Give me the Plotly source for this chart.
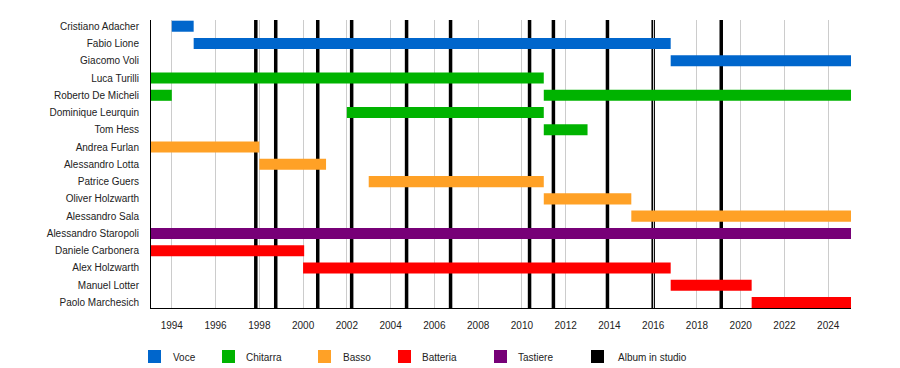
import plotly.graph_objects as go

# ---------------- data ----------------
members = ["Cristiano Adacher", "Fabio Lione", "Giacomo Voli", "Luca Turilli",
           "Roberto De Micheli", "Dominique Leurquin", "Tom Hess", "Andrea Furlan",
           "Alessandro Lotta", "Patrice Guers", "Oliver Holzwarth", "Alessandro Sala",
           "Alessandro Staropoli", "Daniele Carbonera", "Alex Holzwarth",
           "Manuel Lotter", "Paolo Marchesich"]

# periods: (member, role, start, end)
period_member = ["Cristiano Adacher", "Fabio Lione", "Giacomo Voli",
                 "Luca Turilli", "Roberto De Micheli", "Roberto De Micheli",
                 "Dominique Leurquin", "Tom Hess",
                 "Andrea Furlan", "Alessandro Lotta", "Patrice Guers",
                 "Oliver Holzwarth", "Alessandro Sala",
                 "Alessandro Staropoli",
                 "Daniele Carbonera", "Alex Holzwarth", "Manuel Lotter", "Paolo Marchesich"]
period_role = ["Voce", "Voce", "Voce",
               "Chitarra", "Chitarra", "Chitarra", "Chitarra", "Chitarra",
               "Basso", "Basso", "Basso", "Basso", "Basso",
               "Tastiere",
               "Batteria", "Batteria", "Batteria", "Batteria"]
period_start = [1994.0, 1995.0, 2016.8,
                1993.0, 1993.0, 2011.0, 2002.0, 2011.0,
                1993.0, 1998.0, 2003.0, 2011.0, 2015.0,
                1993.0,
                1993.0, 2000.0, 2016.8, 2020.5]
period_end = [1995.0, 2016.8, 2025.04,
              2011.0, 1994.0, 2025.04, 2011.0, 2013.0,
              1998.0, 2001.05, 2011.0, 2015.0, 2025.04,
              2025.04,
              2000.05, 2016.8, 2020.5, 2025.04]

album_years = [1997.84, 1998.75, 2000.67, 2002.22, 2004.73, 2006.74,
               2010.35, 2011.44, 2013.91, 2016.0, 2019.11]

roles = ["Voce", "Chitarra", "Basso", "Batteria", "Tastiere", "Album in studio"]
role_colors = {"Voce": "#0066CC", "Chitarra": "#00B300", "Basso": "#FFA126",
               "Batteria": "#FF0000", "Tastiere": "#770077", "Album in studio": "#000000"}

x_range = [1993.05, 2025.04]

# ---------------- layout geometry ----------------
W, H = 900, 368
ML, MR, MT, MB = 151, 49, 20, 60
PW, PH = W - ML - MR, H - MT - MB

def px_to_paper_x(px):
    return (px - ML) / PW

def px_to_paper_y(py):
    return (H - MB - py) / PH

fig = go.Figure()

for role in roles[:-1]:
    idx = [i for i, r in enumerate(period_role) if r == role]
    fig.add_trace(go.Bar(
        orientation="h",
        y=[period_member[i] for i in idx],
        base=[period_start[i] for i in idx],
        x=[period_end[i] - period_start[i] for i in idx],
        marker=dict(color=role_colors[role], line=dict(width=0)),
        width=0.64,
        showlegend=False,
        hoverinfo="skip",
    ))

shapes = []
for a in album_years:
    shapes.append(dict(type="line", xref="x", yref="paper", x0=a, x1=a, y0=0, y1=1,
                       line=dict(color="black", width=3.5), layer="between"))

# manual legend
leg_sq_x = [148, 222, 318, 398, 494, 591]
leg_tx_x = [171, 244, 341, 420, 516, 616]
annotations = []
for role, sx, tx in zip(roles, leg_sq_x, leg_tx_x):
    shapes.append(dict(type="rect", xref="paper", yref="paper",
                       x0=px_to_paper_x(sx), x1=px_to_paper_x(sx + 13),
                       y0=px_to_paper_y(350), y1=px_to_paper_y(363),
                       fillcolor=role_colors[role], line=dict(width=0)))
    annotations.append(dict(xref="paper", yref="paper", x=px_to_paper_x(tx),
                            y=px_to_paper_y(357), text=role, showarrow=False,
                            xanchor="left", yanchor="middle",
                            font=dict(size=10, color="#222")))

fig.update_layout(
    width=W, height=H,
    margin=dict(l=ML, r=MR, t=MT, b=MB, pad=0),
    plot_bgcolor="white", paper_bgcolor="white",
    font=dict(family="Liberation Sans, Arial, sans-serif", size=10, color="#222"),
    barmode="overlay",
    shapes=shapes,
    annotations=annotations,
    xaxis=dict(range=x_range, tick0=1994, dtick=2, showgrid=True,
               gridcolor="#cccccc", gridwidth=1, zeroline=False,
               showline=True, linecolor="black", linewidth=1,
               ticks="", ticklabelstandoff=8, automargin=False,
               tickfont=dict(size=10, color="#222")),
    yaxis=dict(categoryorder="array", categoryarray=members,
               range=[16.32, -0.36], showgrid=False, zeroline=False,
               showline=True, linecolor="black", linewidth=1,
               ticks="", ticklabelstandoff=9, automargin=False,
               tickfont=dict(size=10, color="#222")),
)

fig.write_html("out.html", config={"displayModeBar": False},
               post_script="document.body.style.margin='0';document.body.style.overflow='hidden';")
